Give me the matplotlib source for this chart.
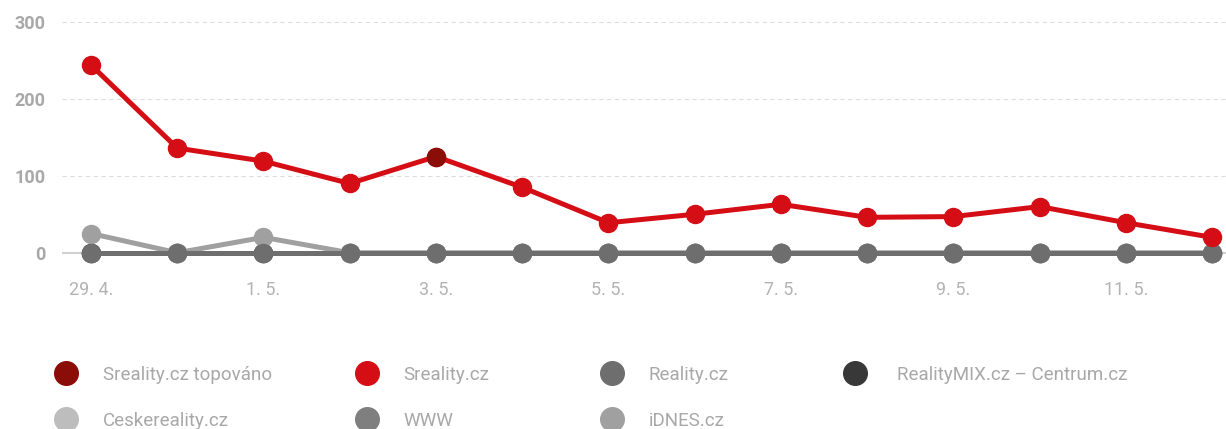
import matplotlib
matplotlib.use("Agg")
import matplotlib.pyplot as plt
from matplotlib.lines import Line2D
import numpy as np

plt.rcParams['font.family'] = ['Roboto', 'DejaVu Sans']

dates = ["29. 4.", "30. 4.", "1. 5.", "2. 5.", "3. 5.", "4. 5.", "5. 5.",
         "6. 5.", "7. 5.", "8. 5.", "9. 5.", "10. 5.", "11. 5.", "12. 5."]
sreality = [244, 136, 119, 90, 125, 85, 39, 50, 63, 46, 47, 60, 39, 20]
sreality_top = [np.nan, np.nan, np.nan, np.nan, 125, np.nan, np.nan,
                np.nan, np.nan, np.nan, np.nan, np.nan, np.nan, np.nan]
reality = [0] * 14
realitymix = [0] * 14
ceskereality = [0] * 14
www = [0] * 14
idnes = [25, 0, 20, 0, 0, 0, 0, 0, 0, 0, 0, 0, 0, 0]
yticks = [0, 100, 200, 300]

colors = {
    "Sreality.cz topováno": "#8a0e07",
    "Sreality.cz": "#d50d15",
    "Reality.cz": "#6e6e6e",
    "RealityMIX.cz – Centrum.cz": "#383838",
    "Ceskereality.cz": "#bdbdbd",
    "WWW": "#7f7f7f",
    "iDNES.cz": "#a0a0a0",
}

W, H = 1226, 429
fig = plt.figure(figsize=(W / 100, H / 100), dpi=100)
ax = fig.add_axes([62 / W, 0.357, 1 - 62 / W, 0.967 - 0.357])

x = np.arange(len(dates))
lw = 3.6
ms = 13

ax.plot(x, ceskereality, color=colors["Ceskereality.cz"], lw=lw, marker='o', ms=ms, zorder=2)
ax.plot(x, www, color=colors["WWW"], lw=lw, marker='o', ms=ms, zorder=2)
ax.plot(x, realitymix, color=colors["RealityMIX.cz – Centrum.cz"], lw=lw, marker='o', ms=ms, zorder=2)
ax.plot(x, idnes, color=colors["iDNES.cz"], lw=lw, marker='o', ms=ms, zorder=3)
ax.plot(x, reality, color=colors["Reality.cz"], lw=lw, marker='o', ms=ms, zorder=4)
ax.plot(x, sreality, color=colors["Sreality.cz"], lw=lw, marker='o', ms=ms, zorder=5)
ax.plot(x, sreality_top, color=colors["Sreality.cz topováno"], lw=0, marker='o', ms=ms, zorder=6)

ax.set_xlim(-0.336, 13.16)
ax.set_ylim(-30, 310)
ax.set_yticks(yticks)
ax.set_yticklabels([str(v) for v in yticks], fontsize=13, fontweight='bold', color='#a8a8a8')
ax.set_xticks(x[::2])
ax.set_xticklabels(dates[::2], fontsize=13, color='#b3b3b3')
ax.tick_params(axis='y', length=0, pad=12)
ax.tick_params(axis='x', length=0, pad=4)
for s in ax.spines.values():
    s.set_visible(False)
for v in yticks[1:]:
    ax.axhline(v, color='#dddddd', lw=0.8, ls=(0, (4, 3)), zorder=0)
ax.axhline(0, color='#d0d0d0', lw=1.5, zorder=1)

columns = [
    ["Sreality.cz topováno", "Ceskereality.cz"],
    ["Sreality.cz", "WWW"],
    ["Reality.cz", "iDNES.cz"],
    ["RealityMIX.cz – Centrum.cz"],
]
col_x = [66, 367, 612, 855]
col_pad = [1.5, 1.5, 1.5, 1.77]
fs = 13.5
for cx, pad, names in zip(col_x, col_pad, columns):
    handles = [Line2D([], [], lw=0, marker='o', ms=17, color=colors[n]) for n in names]
    leg = fig.legend(handles, names, loc='upper left',
                     bbox_to_anchor=((cx - 8.4) / W, 1 - 366 / H),
                     frameon=False, fontsize=fs, handlelength=0.9,
                     handletextpad=pad, labelspacing=1.48, borderpad=0,
                     borderaxespad=0)
    for t in leg.get_texts():
        t.set_color('#a8a8a8')

fig.savefig("out.png", dpi=100)
